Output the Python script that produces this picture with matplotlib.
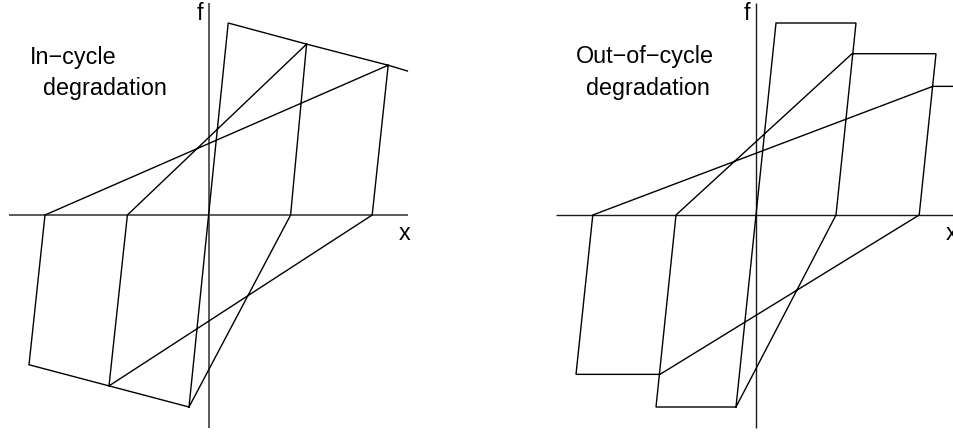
import matplotlib
matplotlib.use("Agg")
import matplotlib.pyplot as plt

plt.rcParams['font.family'] = ['Liberation Sans', 'DejaVu Sans']

# Displacement / force units: x in multiples of the reference drift, f normalised by yield force
# In-cycle degradation: single continuous force-displacement path
in_x = [-0.25, 0.24, 1.22, 1.02, -0.25, -1.25, -1.02, 1.22, 2.24, 2.04, -1.25, -2.25, -2.05, 2.24, 2.48]
in_f = [-1.00, 1.00, 0.89, 0.00, -1.00, -0.89, 0.00, 0.89, 0.78, 0.00, -0.89, -0.78, 0.00, 0.78, 0.75]

# Out-of-cycle degradation: strength drops between successive cycles
out_x = [-0.25, 0.25, 1.25, 1.00, -0.25, -1.25, -1.00, 1.20, 2.25, 2.04, -1.20, -2.25, -2.04, 2.21, 2.80]
out_f = [-1.00, 1.00, 1.00, 0.00, -1.00, -1.00, 0.00, 0.84, 0.84, 0.00, -0.83, -0.83, 0.00, 0.67, 0.67]

titles = [["In\u2212cycle", "degradation"], ["Out\u2212of\u2212cycle", "degradation"]]

W, H = 954, 432
fig = plt.figure(figsize=(W / 100, H / 100), dpi=100)

PX_X = 80.0   # pixels per displacement unit
PX_F = 192.0  # pixels per force unit
origins = [(209, 215), (756, 215)]
panels = [(0, 477), (477, 954)]
axis_style = [dict(color="#5a5a5a", lw=1.4), dict(color="#1a1a1a", lw=1.0)]
text_pos = [[(30, 64), (43, 95)], [(576, 63), (586, 95)]]

for i, (xs, fs) in enumerate([(in_x, in_f), (out_x, out_f)]):
    left, right = panels[i]
    ox, oy = origins[i]
    ax = fig.add_axes([left / W, 0, (right - left) / W, 1])
    ax.set_xlim((left - ox) / PX_X, (right - ox) / PX_X)
    ax.set_ylim((oy - H) / PX_F, oy / PX_F)
    ax.axis("off")
    # coordinate axes
    ax.plot([-200 / PX_X, 199 / PX_X], [0, 0], solid_capstyle="butt", **axis_style[i])
    ax.plot([0, 0], [(oy - 428) / PX_F, (oy - 3) / PX_F], solid_capstyle="butt", **axis_style[i])
    # hysteresis path
    ax.plot(xs, fs, color="black", lw=1.0, solid_joinstyle="miter")
    # axis labels
    ax.text(-6 / PX_X, (oy - 20) / PX_F, "f", ha="right", va="baseline", fontsize=16.8)
    ax.text(190 / PX_X, (oy - 240) / PX_F, "x", ha="left", va="baseline", fontsize=16.8)
    for (tx, ty), line in zip(text_pos[i], titles[i]):
        fig.text(tx / W, 1 - ty / H, line, ha="left", va="baseline", fontsize=16.8)

fig.savefig("out.png", dpi=100, facecolor="white")
